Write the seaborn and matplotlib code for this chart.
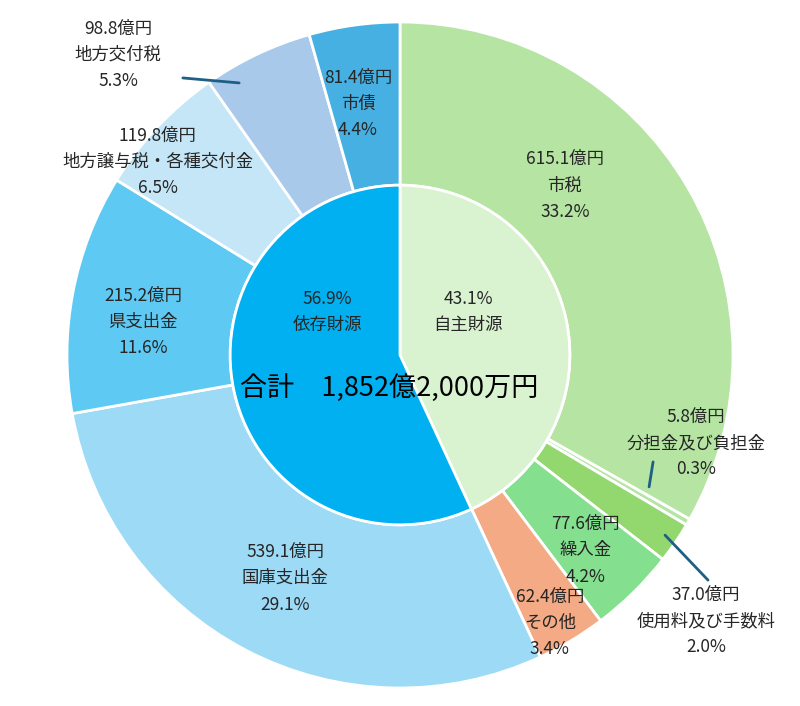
import seaborn as sns
import matplotlib.pyplot as plt

# 歳入の内訳（億円）
outer_labels = ["市税", "分担金及び負担金", "使用料及び手数料", "繰入金", "その他",
                "国庫支出金", "県支出金", "地方譲与税・各種交付金", "地方交付税", "市債"]
outer_values = [615.1, 5.8, 37.0, 77.6, 62.4, 539.1, 215.2, 119.8, 98.8, 81.4]
outer_pcts = ["33.2%", "0.3%", "2.0%", "4.2%", "3.4%", "29.1%", "11.6%", "6.5%", "5.3%", "4.4%"]

inner_labels = ["自主財源", "依存財源"]
inner_pcts = [43.1, 56.9]

total_text = "合計　1,852億2,000万円"

outer_colors = ["#b5e4a3", "#b5e4a3", "#92d86e", "#84e08f", "#f3aa85",
                "#9ddaf6", "#5ec9f2", "#c5e6f6", "#a9c9eb", "#45b0e1"]
inner_colors = ["#d9f2d0", "#00b0f0"]

# ラベル位置（データ座標）
label_pos = {
    "市税": (0.495, 0.508),
    "分担金及び負担金": (0.889, -0.264),
    "使用料及び手数料": (0.919, -0.799),
    "繰入金": (0.556, -0.586),
    "その他": (0.450, -0.805),
    "国庫支出金": (-0.345, -0.670),
    "県支出金": (-0.772, 0.099),
    "地方譲与税・各種交付金": (-0.727, 0.580),
    "地方交付税": (-0.847, 0.901),
    "市債": (-0.126, 0.754),
}
inner_pos = {"自主財源": (0.204, 0.129), "依存財源": (-0.219, 0.129)}
leaders = {
    "分担金及び負担金": ((0.760, -0.321), (0.748, -0.396)),
    "使用料及び手数料": ((0.796, -0.541), (0.925, -0.676)),
    "地方交付税": ((-0.652, 0.832), (-0.483, 0.817)),
}

sns.set_theme(style="white")
plt.rcParams["font.family"] = ["Noto Sans CJK JP", "DejaVu Sans"]

fig = plt.figure(figsize=(8, 7.06), dpi=100)
ax = fig.add_axes([0, 0, 1, 1])

r_in = 0.51
ax.pie(outer_values, radius=1, startangle=90, counterclock=False, colors=outer_colors,
       wedgeprops=dict(width=1 - r_in, edgecolor="white", linewidth=2))
ax.pie(inner_pcts, radius=r_in, startangle=90, counterclock=False, colors=inner_colors,
       wedgeprops=dict(edgecolor="white", linewidth=2))

txt_color = "#262626"
for name, val, pct in zip(outer_labels, outer_values, outer_pcts):
    x, y = label_pos[name]
    ax.text(x, y, f"{val:.1f}億円\n{name}\n{pct}", ha="center", va="center",
            fontsize=12.5, color=txt_color, linespacing=1.6)
for name, pct in zip(inner_labels, inner_pcts):
    x, y = inner_pos[name]
    ax.text(x, y, f"{pct:.1f}%\n{name}", ha="center", va="center",
            fontsize=12.5, color=txt_color, linespacing=1.6)
for name, (p0, p1) in leaders.items():
    ax.plot([p0[0], p1[0]], [p0[1], p1[1]], color="#1f5f86", linewidth=2)

ax.text(-0.033, -0.099, total_text, ha="center", va="center", fontsize=19.5, color="black")

ax.set_xlim(-400 / 333, 400 / 333)
ax.set_ylim(-351 / 333, 355 / 333)
ax.set_aspect("auto")
ax.axis("off")

fig.savefig("out.png", dpi=100, facecolor="white")
